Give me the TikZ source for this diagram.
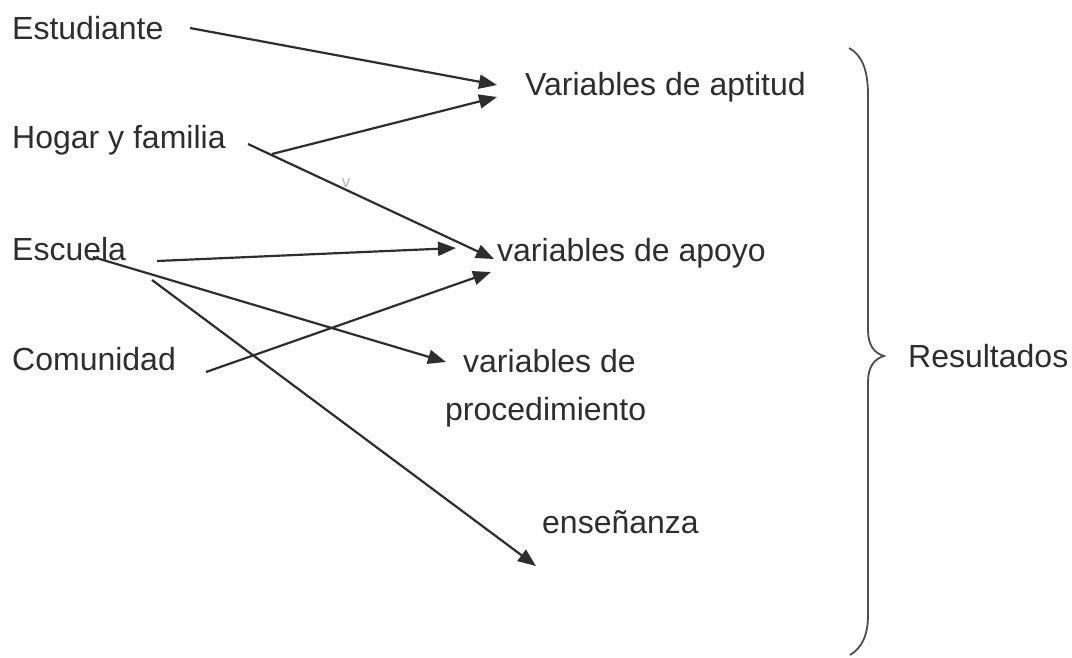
\documentclass[tikz,border=0pt]{standalone}
\usepackage{fontspec}
\setmainfont{Liberation Sans}
\usetikzlibrary{arrows.meta}
\definecolor{ink}{HTML}{2E2E2E}
\begin{document}
\begin{tikzpicture}[x=1pt,y=-1pt,
  lbl/.style={anchor=base west,inner sep=0pt,text=ink,font=\fontsize{32}{38}\selectfont},
  conn/.style={draw=ink,line width=2.2pt,-{Triangle[length=18pt,width=14pt]}},
  bracestyle/.style={draw=ink!85,line width=1.8pt}]
\useasboundingbox[fill=white] (0,0) rectangle (1072,657);
% labels
\node[lbl] (est) at (12,39) {Estudiante};
\node[lbl] (hog) at (12,148) {Hogar y familia};
\node[lbl] (esc) at (12,260) {Escuela};
\node[lbl] (com) at (12,370) {Comunidad};
\node[lbl] (apt) at (525,95) {Variables de aptitud};
\node[lbl] (apo) at (497,261) {variables de apoyo};
\node[lbl] (pro1) at (463,372) {variables de};
\node[lbl] (pro2) at (445,420) {procedimiento};
\node[lbl] (ens) at (542,533) {enseñanza};
\node[lbl] (res) at (908,367) {Resultados};
\node[text=ink!35,inner sep=0pt,font=\fontsize{17}{17}\selectfont] (vmark) at (346,183) {v};
% connector end points
\coordinate (estS) at (190,28);
\coordinate (aptA) at (497,85);
\coordinate (aptB) at (497,97);
\coordinate (hogS) at (248,144);
\coordinate (hogB) at (272,154);
\coordinate (apoA) at (494,259);
\coordinate (escS1) at (157,261);
\coordinate (apoB) at (456,248);
\coordinate (comS) at (206,372);
\coordinate (apoC) at (491,272);
\coordinate (escS2) at (93,257);
\coordinate (proA) at (446,362);
\coordinate (escS3) at (152,280);
\coordinate (ensA) at (536,566);
% connectors
\draw[conn] (estS) -- (aptA);
\draw[conn] (hogB) -- (aptB);
\draw[conn] (hogS) -- (apoA);
\draw[conn] (escS1) -- (apoB);
\draw[conn] (comS) -- (apoC);
\draw[conn] (escS2) -- (proA);
\draw[conn] (escS3) -- (ensA);
% brace
\draw[bracestyle] (849,48) .. controls (862,55) and (868,70) .. (868,95)
  -- (868,330) .. controls (868,345) and (874,353) .. (884,356)
  .. controls (874,359) and (868,367) .. (868,382)
  -- (868,615) .. controls (868,635) and (862,648) .. (850,655);
\end{tikzpicture}
\end{document}
